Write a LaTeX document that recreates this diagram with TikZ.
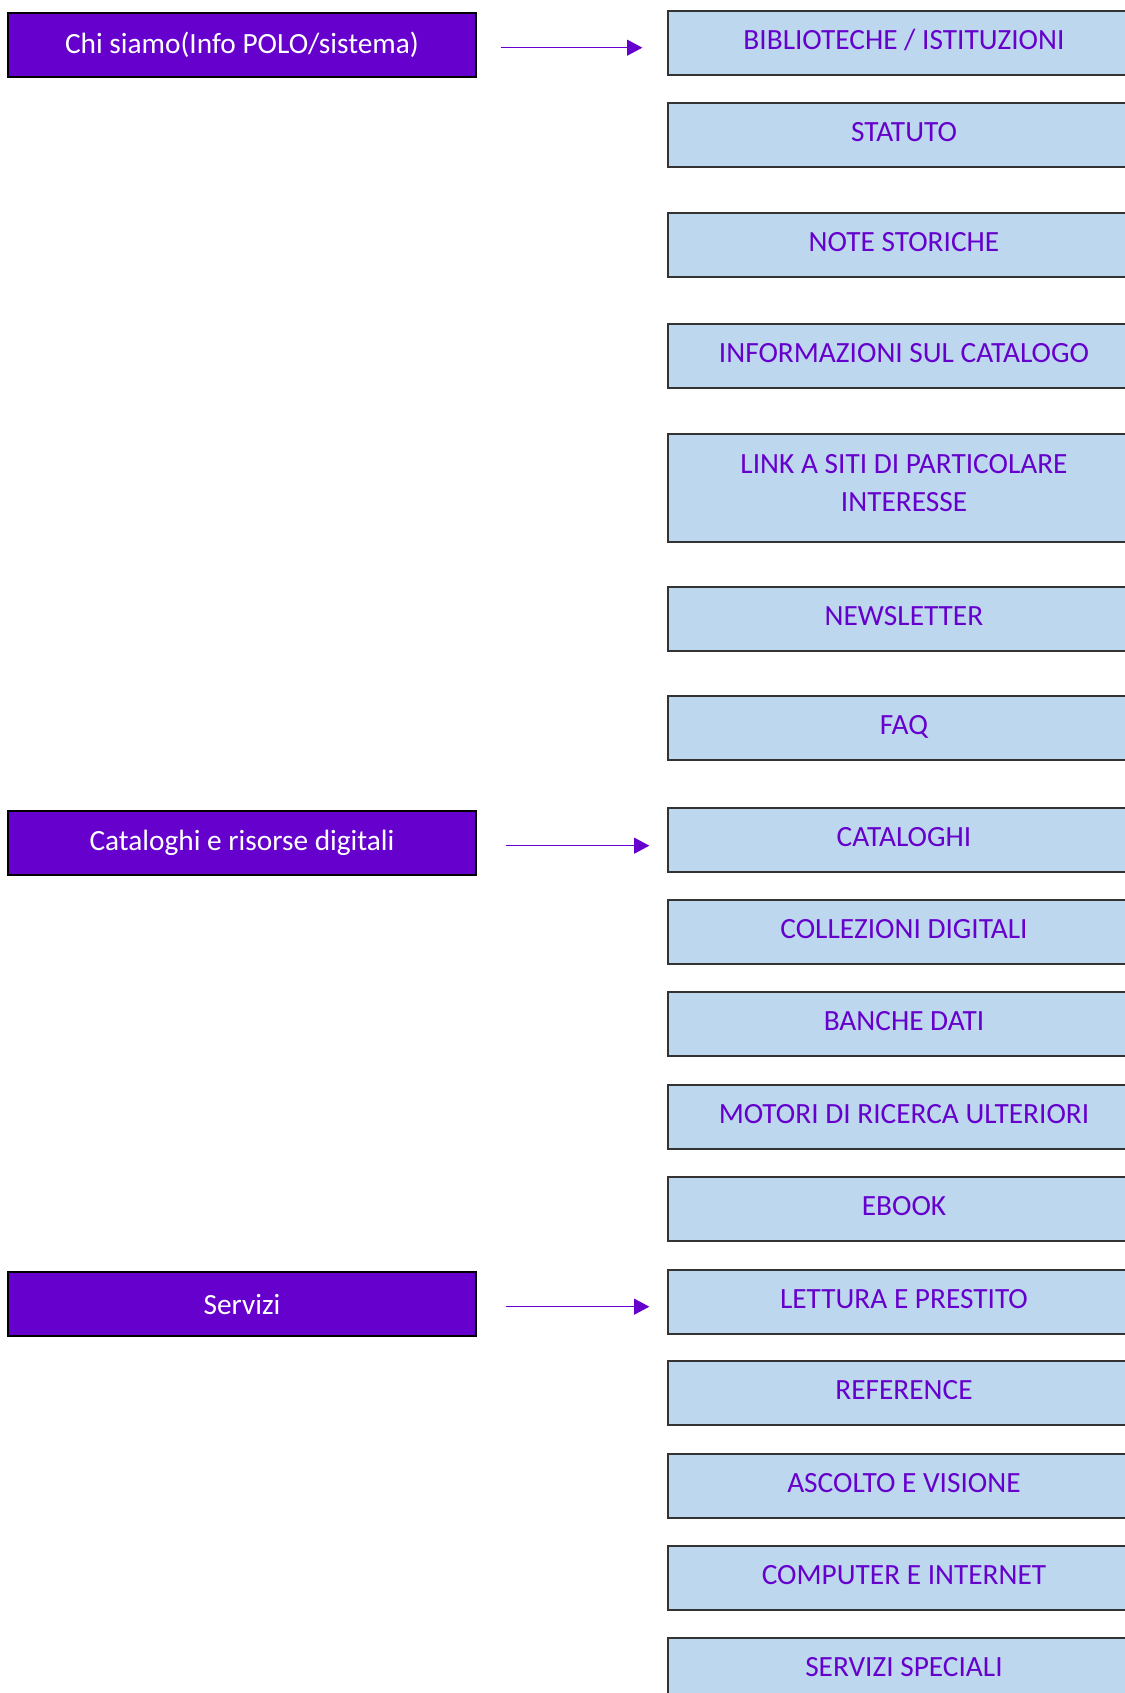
\documentclass[tikz,border=0pt]{standalone}
\usepackage{fontspec}
\setmainfont{Carlito}
\usetikzlibrary{arrows.meta}
\definecolor{violetto}{HTML}{6600CC}
\definecolor{azzurro}{HTML}{BDD7EE}
\begin{document}
\begin{tikzpicture}[x=0.75pt,y=-0.75pt,
 headbox/.style={draw=black, line width=0.9pt, fill=violetto, text=white, minimum width=351pt, minimum height=48pt, inner sep=0pt, font=\fontsize{22}{28.5}\selectfont, align=center},
 itembox/.style={draw=black!80, line width=1pt, fill=azzurro, text=violetto, minimum width=354pt, minimum height=48pt, inner sep=0pt, font=\fontsize{22}{28.5}\selectfont, text height=14pt, text depth=4.5pt},
 tallbox/.style={draw=black!80, line width=1pt, fill=azzurro, text=violetto, minimum width=354pt, minimum height=81pt, inner sep=0pt, font=\fontsize{22}{28.5}\selectfont},
 conn/.style={draw=violetto, line width=1pt, -{Triangle[length=11.5pt,width=12pt]}}]
\path[use as bounding box, clip] (0,0) rectangle (1125,1693);
\fill[white] (0,0) rectangle (1125,1693);
% left heads
\node[headbox] (chi) at (242,45) {Chi siamo(Info POLO/sistema)};
\node[headbox] (cat) at (242,843) {Cataloghi e risorse digitali};
\node[headbox] (ser) at (242,1304) {Servizi};
% right items
\node[itembox] (b1) at (904,43) {BIBLIOTECHE / ISTITUZIONI};
\node[itembox] (b2) at (904,135) {STATUTO};
\node[itembox] (b3) at (904,245) {NOTE STORICHE};
\node[itembox] (b4) at (904,356) {INFORMAZIONI SUL CATALOGO};
\node[tallbox] (b5) at (904,488) {\setlength{\tabcolsep}{0pt}\begin{tabular}{c}LINK A SITI DI PARTICOLARE\\INTERESSE\rule[-13.5pt]{0pt}{1pt}\end{tabular}};
\node[itembox] (b6) at (904,619) {NEWSLETTER};
\node[itembox] (b7) at (904,728) {FAQ};
\node[itembox] (b8) at (904,840) {CATALOGHI};
\node[itembox] (b9) at (904,932) {COLLEZIONI DIGITALI};
\node[itembox] (b10) at (904,1024) {BANCHE DATI};
\node[itembox] (b11) at (904,1117) {MOTORI DI RICERCA ULTERIORI};
\node[itembox] (b12) at (904,1209) {EBOOK};
\node[itembox] (b13) at (904,1302) {LETTURA E PRESTITO};
\node[itembox] (b14) at (904,1393) {REFERENCE};
\node[itembox] (b15) at (904,1486) {ASCOLTO E VISIONE};
\node[itembox] (b16) at (904,1578) {COMPUTER E INTERNET};
\node[itembox] (b17) at (904,1670) {SERVIZI SPECIALI};
% connectors
\draw[conn] ([xshift=18pt,yshift=-2pt]chi.east) -- ([xshift=-18.75pt,yshift=-2pt]chi.east -| b1.west);
\draw[conn] ([xshift=21.75pt,yshift=-2pt]cat.east) -- ([xshift=-13.5pt,yshift=-2pt]cat.east -| b8.west);
\draw[conn] ([xshift=21.75pt,yshift=-2pt]ser.east) -- ([xshift=-13.5pt,yshift=-2pt]ser.east -| b13.west);
\end{tikzpicture}
\end{document}
